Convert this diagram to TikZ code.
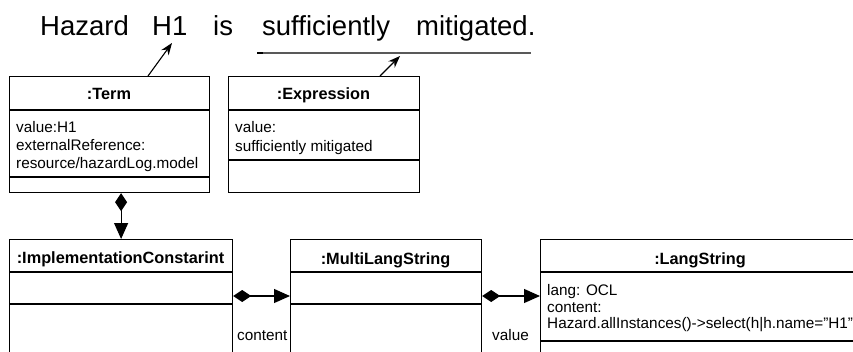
\documentclass[tikz,border=0pt]{standalone}
\usepackage{fontspec}
\setmainfont{Liberation Sans}
\usetikzlibrary{arrows.meta}
\begin{document}
\begin{tikzpicture}[x=1pt,y=-1pt,
  box/.style={draw, line width=1.2pt, inner sep=0pt, anchor=north west},
  sep/.style={line width=1.2pt},
  ttl/.style={anchor=base, font=\fontsize{16.3}{19}\selectfont\bfseries},
  attr/.style={anchor=base west, inner sep=0pt, font=\fontsize{15.3}{18}\selectfont},
  word/.style={anchor=base west, inner sep=0pt, font=\fontsize{27.5}{30}\selectfont},
  comp/.style={line width=1.2pt, {Diamond[length=18pt,width=12pt]}-{Triangle[length=16pt,width=14pt]}},
  ptr/.style={line width=1.1pt, -{Stealth[length=12pt,width=9pt]}}]
\useasboundingbox (0,0) rectangle (853,351);
\begin{scope}
\clip (0,0) rectangle (853,351);
% sentence
\node[word] (w1) at (40,35) {Hazard};
\node[word] (w2) at (152,35) {H1};
\node[word] (w3) at (213,35) {is};
\node[word] (w4) at (262,35) {sufficiently};
\node[word] (w5) at (416,35) {mitigated.};
\coordinate (ulA) at (257,53);
\coordinate (ulB) at (263,53);
\coordinate (ulC) at (531,53);
\draw[line width=1.5pt, black!65] (ulA) -- (ulC);
\draw[line width=1.8pt, black] (ulA) -- (ulB);
% boxes
\node[box, minimum width=200pt, minimum height=116pt] (term) at (9,76) {};
\draw[sep] ([yshift=-34pt]term.north west) -- ([yshift=-34pt]term.north east);
\draw[sep] ([yshift=-101pt]term.north west) -- ([yshift=-101pt]term.north east);
\node[ttl] (termT) at (109,99) {:Term};
\node[attr] (termA1) at (16,132) {value:H1};
\node[attr] (termA2) at (16,150) {externalReference:};
\node[attr] (termA3) at (16,168) {resource/hazardLog.model};

\node[box, minimum width=191pt, minimum height=116pt] (expr) at (228,76) {};
\draw[sep] ([yshift=-34pt]expr.north west) -- ([yshift=-34pt]expr.north east);
\draw[sep] ([yshift=-84pt]expr.north west) -- ([yshift=-84pt]expr.north east);
\node[ttl] (exprT) at (323.5,99) {:Expression};
\node[attr] (exprA1) at (235,132) {value:};
\node[attr] (exprA2) at (235,151) {sufficiently mitigated};

\node[box, minimum width=223pt, minimum height=140pt] (impl) at (9,239) {};
\draw[sep] ([yshift=-33pt]impl.north west) -- ([yshift=-33pt]impl.north east);
\draw[sep] ([yshift=-65pt]impl.north west) -- ([yshift=-65pt]impl.north east);
\node[ttl] (implT) at (120.5,263) {:ImplementationConstarint};

\node[box, minimum width=191pt, minimum height=140pt] (mls) at (290,239) {};
\draw[sep] ([yshift=-33pt]mls.north west) -- ([yshift=-33pt]mls.north east);
\draw[sep] ([yshift=-65pt]mls.north west) -- ([yshift=-65pt]mls.north east);
\node[ttl] (mlsT) at (385.5,264) {:MultiLangString};

\node[box, minimum width=320pt, minimum height=140pt] (ls) at (540,239) {};
\draw[sep] ([yshift=-33pt]ls.north west) -- ([yshift=-33pt]ls.north east);
\draw[sep] ([yshift=-102pt]ls.north west) -- ([yshift=-102pt]ls.north east);
\node[ttl] (lsT) at (700,264) {:LangString};
\node[attr] (lsA1) at (547,295) {lang: OCL};
\node[attr] (lsA2) at (547,312) {content:};
\node[attr] (lsA3) at (547,328) {Hazard.allInstances()->select(h|h.name=\symbol{34}H1\symbol{34}};

% connectors
\coordinate (p1s) at (148,76);
\coordinate (p1e) at (172,43);
\draw[ptr] (p1s) -- (p1e);
\coordinate (p2s) at (380,76);
\coordinate (p2e) at (400,56);
\draw[ptr] (p2s) -- (p2e);

\draw[comp] (impl.north |- term.south) -- (impl.north);
\coordinate (cy) at (0,296);
\draw[comp] (impl.east |- cy) -- (mls.west |- cy);
\draw[comp] (mls.east |- cy) -- (ls.west |- cy);
\node[attr] (lc) at (237,340) {content};
\node[attr] (lv) at (492,340) {value};
\end{scope}
\end{tikzpicture}
\end{document}
